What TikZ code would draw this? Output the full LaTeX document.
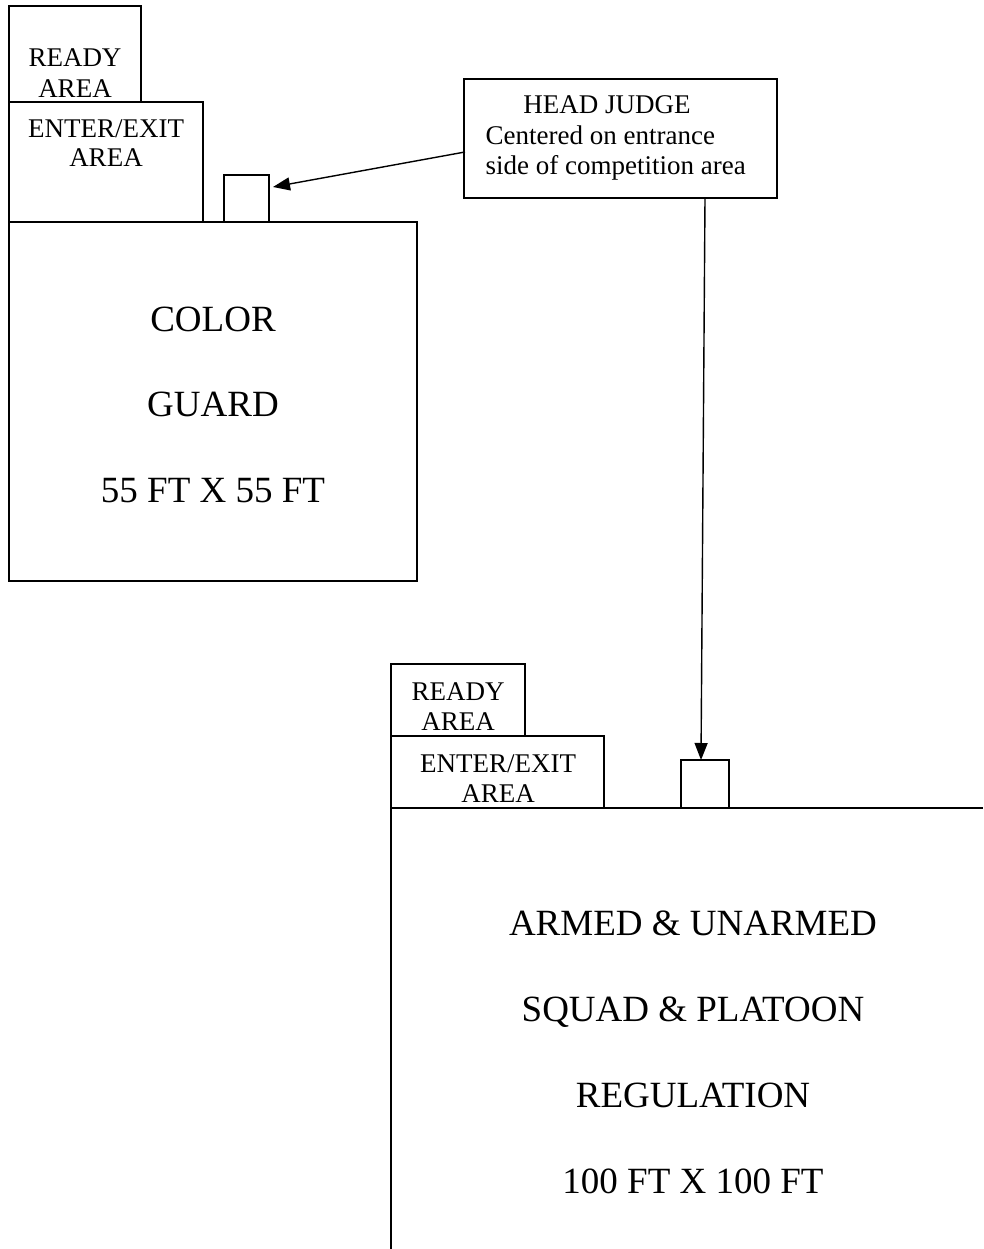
\documentclass[tikz,border=0pt]{standalone}
\usepackage{fontspec}
\setmainfont{Liberation Serif}
\usetikzlibrary{arrows.meta}
\begin{document}
\begin{tikzpicture}[x=1pt,y=-1pt,line width=1.4pt,
  small/.style={font=\fontsize{27}{31}\selectfont,inner sep=0pt,anchor=base},
  big/.style={font=\fontsize{37}{44}\selectfont,inner sep=0pt,anchor=base},
  boxline/.style={draw=black,line width=1.4pt},
  pointer/.style={draw=black,line width=1.4pt,-{Triangle[length=17pt,width=13pt]}}]
\useasboundingbox (0,0) rectangle (983,1249);
% ---------- top-left: color guard ----------
\draw[boxline] (9,6) rectangle (141,102);
\node[small] (r1a) at (75,67) {READY};
\node[small] (r1b) at (75,98) {AREA};
\draw[boxline] (9,102) rectangle (203,222);
\node[small] (e1a) at (106,138) {ENTER/EXIT};
\node[small] (e1b) at (106,167) {AREA};
\draw[boxline] (224,175) rectangle (269,222);
\coordinate (j1) at (273,187);
\draw[boxline] (9,222) rectangle (417,581);
\node[big] (cg1) at (213,331) {COLOR};
\node[big] (cg2) at (213,416) {GUARD};
\node[big] (cg3) at (213,502) {55 FT X 55 FT};
% ---------- head judge ----------
\draw[boxline] (464,79) rectangle (777,198);
\node[small] (hj1) at (607,114) {HEAD JUDGE};
\node[small,anchor=base west] (hj2) at (485,145) {Centered on entrance};
\node[small,anchor=base west] (hj3) at (485,175) {side of competition area};
\coordinate (hjw) at (465,152);
\coordinate (hjs) at (705,198);
% ---------- bottom: armed & unarmed ----------
\draw[boxline] (391,664) rectangle (525,736);
\node[small] (r2a) at (458,700) {READY};
\node[small] (r2b) at (458,730) {AREA};
\draw[boxline] (391,736) rectangle (604,808);
\node[small] (e2a) at (498,772) {ENTER/EXIT};
\node[small] (e2b) at (498,802) {AREA};
\draw[boxline] (681,760) rectangle (729,808);
\coordinate (j2) at (701,760);
\draw[boxline] (391,1249) -- (391,808) -- (983,808);
\node[big] (ar1) at (693,935) {ARMED \& UNARMED};
\node[big] (ar2) at (693,1021) {SQUAD \& PLATOON};
\node[big] (ar3) at (693,1107) {REGULATION};
\node[big] (ar4) at (693,1193) {100 FT X 100 FT};
% ---------- pointers ----------
\draw[pointer] (hjw) -- (j1);
\draw[pointer] (hjs) -- (j2);
\end{tikzpicture}
\end{document}
